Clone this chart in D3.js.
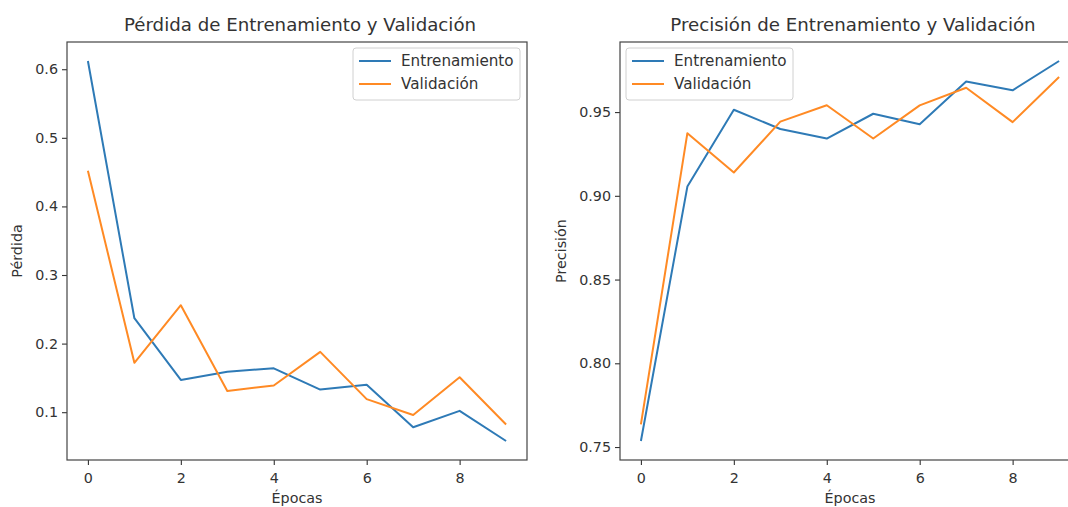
<!DOCTYPE html>
<html><head><meta charset="utf-8">
<script src="https://cdn.jsdelivr.net/npm/d3@7"></script>
<style>
body{margin:0;background:#fff;}
text{font-family:"DejaVu Sans",sans-serif;fill:#333;}
</style></head>
<body>
<svg id="c" width="1068" height="507"></svg>
<script>
const epochs = [0,1,2,3,4,5,6,7,8,9];
const lossTrain = [0.612,0.237,0.147,0.159,0.164,0.133,0.140,0.078,0.102,0.058];
const lossVal   = [0.452,0.172,0.256,0.131,0.139,0.188,0.119,0.096,0.151,0.082];
const accTrain  = [0.7536,0.9055,0.9514,0.9399,0.9342,0.9490,0.9427,0.9682,0.9630,0.9805];
const accVal    = [0.7635,0.9374,0.9139,0.9443,0.9541,0.9342,0.9540,0.9645,0.9440,0.9709];
const xTicks = [0,2,4,6,8];
const lossTicks = [0.1,0.2,0.3,0.4,0.5,0.6];
const accTicks = [0.75,0.80,0.85,0.90,0.95];
const seriesNames = ["Entrenamiento","Validación"];
const colors = ["#2e7ab6","#ff8a24"];

const svg = d3.select("#c");

function panel(opt){
  const {left,right,top,bottom,train,val,yTicks,yFmt,title,ylabel,legendX} = opt;
  const g = svg.append("g");
  const x = d3.scaleLinear().domain([-0.45,9.45]).range([left,right]);
  const all = train.concat(val);
  const mn = d3.min(all), mx = d3.max(all), pad=(mx-mn)*0.05;
  const y = d3.scaleLinear().domain([mn-pad,mx+pad]).range([bottom,top]);

  const clipId = "clip"+left;
  svg.append("clipPath").attr("id",clipId).append("rect")
     .attr("x",left).attr("y",top).attr("width",right-left).attr("height",bottom-top);

  const line = d3.line().x((d,i)=>x(epochs[i])).y(d=>y(d));
  [train,val].forEach((s,k)=>{
    g.append("path").datum(s).attr("d",line).attr("fill","none")
     .attr("stroke",colors[k]).attr("stroke-width",2).attr("stroke-linejoin","round")
     .attr("clip-path",`url(#${clipId})`);
  });

  const xa = g.append("g").attr("transform",`translate(0,${bottom})`)
    .call(d3.axisBottom(x).tickValues(xTicks).tickSize(5).tickPadding(4).tickFormat(d3.format("d")));
  const ya = g.append("g").attr("transform",`translate(${left},0)`)
    .call(d3.axisLeft(y).tickValues(yTicks).tickSize(5).tickPadding(4).tickFormat(yFmt));
  [xa,ya].forEach(a=>{
    a.select(".domain").remove();
    a.selectAll(".tick line").attr("stroke","#333").attr("stroke-width",1.1);
    a.selectAll(".tick text").attr("font-size",14.3).attr("fill","#333")
      .style("font-family","'DejaVu Sans',sans-serif");
  });
  xa.selectAll(".tick text").attr("dy","1em");

  g.append("rect").attr("x",left).attr("y",top).attr("width",right-left).attr("height",bottom-top)
   .attr("fill","none").attr("stroke","#444").attr("stroke-width",1.2);

  g.append("text").attr("x",(left+right)/2+3).attr("y",31).attr("text-anchor","middle")
   .attr("font-size",18.2).text(title);
  g.append("text").attr("x",(left+right)/2).attr("y",503).attr("text-anchor","middle")
   .attr("font-size",14.3).text("Épocas");
  g.append("text").attr("transform",`translate(${opt.ylabX},${(top+bottom)/2}) rotate(-90)`)
   .attr("text-anchor","middle").attr("font-size",14.3).text(ylabel);

  const lg = g.append("g").attr("transform",`translate(${legendX},48)`);
  lg.append("rect").attr("width",167).attr("height",52).attr("rx",3)
    .attr("fill","#fff").attr("fill-opacity",0.8).attr("stroke","#d0d0d0").attr("stroke-width",1);
  seriesNames.forEach((n,k)=>{
    const yy = 13 + k*23;
    lg.append("line").attr("x1",6).attr("x2",38).attr("y1",yy).attr("y2",yy)
      .attr("stroke",colors[k]).attr("stroke-width",2);
    lg.append("text").attr("x",48).attr("y",yy).attr("dy","0.35em").attr("font-size",15.2).text(n);
  });
}

panel({left:67,right:527,top:42,bottom:460,train:lossTrain,val:lossVal,yTicks:lossTicks,
  yFmt:d3.format(".1f"),title:"Pérdida de Entrenamiento y Validación",ylabel:"Pérdida",ylabX:22,legendX:353});
panel({left:620,right:1080,top:42,bottom:460,train:accTrain,val:accVal,yTicks:accTicks,
  yFmt:d3.format(".2f"),title:"Precisión de Entrenamiento y Validación",ylabel:"Precisión",ylabX:566,legendX:626});
</script>
</body></html>
